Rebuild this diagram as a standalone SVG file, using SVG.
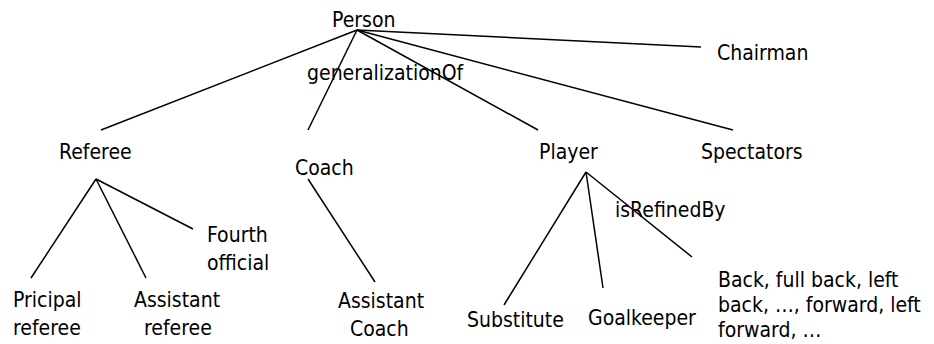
<svg xmlns="http://www.w3.org/2000/svg" width="934" height="344" viewBox="0 0 934 344">
<style>
text{font-family:"DejaVu Sans Condensed","DejaVu Sans",Verdana,sans-serif;font-stretch:condensed;font-size:21px;fill:#000}
.c line{stroke:#000;stroke-width:1.5;fill:none}
</style>
<rect width="934" height="344" fill="#fff"/>
<g class="c" id="connectors">
<line x1="357" y1="30" x2="101" y2="130"/>
<line x1="357" y1="30" x2="308" y2="130"/>
<line x1="357" y1="30" x2="538" y2="130"/>
<line x1="357" y1="30" x2="733" y2="130"/>
<line x1="357" y1="30" x2="701" y2="47"/>
<line x1="96" y1="179" x2="31" y2="278"/>
<line x1="96" y1="179" x2="146" y2="278"/>
<line x1="96" y1="179" x2="193" y2="229"/>
<line x1="308" y1="179" x2="375" y2="282"/>
<line x1="586" y1="172" x2="504" y2="305"/>
<line x1="586" y1="172" x2="603" y2="288"/>
<line x1="586" y1="172" x2="692" y2="257"/>
</g>
<g id="person"><text x="332" y="27">Person</text></g>
<g id="chairman"><text x="717" y="60">Chairman</text></g>
<g id="label-generalizationOf"><text x="307" y="80">generalizationOf</text></g>
<g id="referee"><text x="59" y="159">Referee</text></g>
<g id="coach"><text x="295" y="175">Coach</text></g>
<g id="player"><text x="539" y="159">Player</text></g>
<g id="spectators"><text x="701" y="159">Spectators</text></g>
<g id="fourth-official"><text x="207" y="242">Fourth</text><text x="207" y="270">official</text></g>
<g id="pricipal-referee"><text x="13" y="307">Pricipal</text><text x="13" y="335">referee</text></g>
<g id="assistant-referee"><text x="134" y="307">Assistant</text><text x="144" y="335">referee</text></g>
<g id="assistant-coach"><text x="338" y="308">Assistant</text><text x="350" y="336">Coach</text></g>
<g id="label-isRefinedBy"><text x="615" y="217">isRefinedBy</text></g>
<g id="substitute"><text x="467" y="327">Substitute</text></g>
<g id="goalkeeper"><text x="588" y="325">Goalkeeper</text></g>
<g id="positions"><text x="718" y="287">Back, full back, left</text><text x="718" y="312">back, …, forward, left</text><text x="718" y="337">forward, …</text></g>
</svg>
